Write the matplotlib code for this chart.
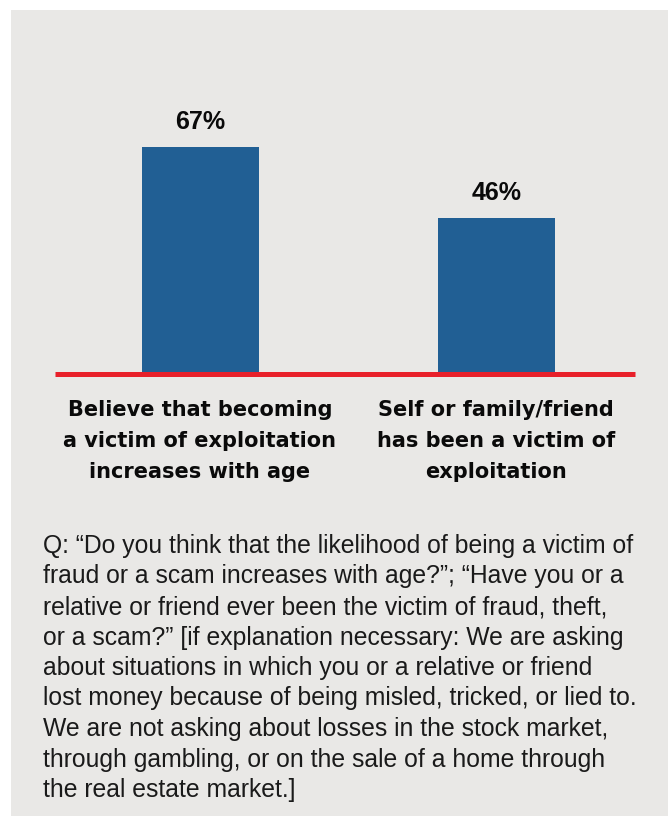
import matplotlib
matplotlib.use("Agg")
import matplotlib.pyplot as plt
from matplotlib.patches import Rectangle

# --- DATA ---
categories = [
    ["Believe that becoming", "a victim of exploitation", "increases with age"],
    ["Self or family/friend", "has been a victim of", "exploitation"],
]
values = [67, 46]
value_labels = ["67%", "46%"]
note_lines = [
    "Q: \u201cDo you think that the likelihood of being a victim of",
    "fraud or a scam increases with age?\u201d; \u201cHave you or a",
    "relative or friend ever been the victim of fraud, theft,",
    "or a scam?\u201d [if explanation necessary: We are asking",
    "about situations in which you or a relative or friend",
    "lost money because of being misled, tricked, or lied to.",
    "We are not asking about losses in the stock market,",
    "through gambling, or on the sale of a home through",
    "the real estate market.]",
]

# --- STYLE ---
W, H, DPI = 668, 816, 100
PANEL = "#e9e8e6"
BAR = "#215f94"
RED = "#e8202a"
BOLD = ["DejaVu Sans"]
NUM = ["Liberation Sans", "DejaVu Sans"]
NOTE = ["Liberation Sans Narrow", "Liberation Sans", "DejaVu Sans"]

def fx(px):
    return px / W

def fy(py):
    return 1 - py / H

fig = plt.figure(figsize=(W / DPI, H / DPI), dpi=DPI)
fig.patch.set_facecolor("white")
fig.patches.append(Rectangle((fx(11), 0), 1 - fx(11), fy(10), transform=fig.transFigure,
                             facecolor=PANEL, edgecolor="none", zorder=-10))

# axes spans the red baseline (x 55-635 px), bottom at y 374 px
base_px, top_px = 374, 100
ax = fig.add_axes([fx(55), fy(base_px), fx(635 - 55), (base_px - top_px) / H])
ax.set_zorder(5)
ax.set_facecolor("none")
px_per_pct = (373 - 146) / 67.0
spacing = 296.0
ax.set_xlim(-(200.5 - 55) / spacing, (635 - 200.5) / spacing)
ax.set_ylim(0, (base_px - top_px) / px_per_pct)
x = list(range(len(values)))
ax.bar(x, values, width=117 / spacing, color=BAR, zorder=2)
ax.axhline(0, color=RED, lw=3.6, zorder=3, clip_on=False, solid_capstyle="butt")
for s in ax.spines.values():
    s.set_visible(False)
ax.set_xticks([])
ax.set_yticks([])

for xi, v, lab in zip(x, values, value_labels):
    ax.annotate(lab, (xi, v), xytext=(0, 18 * 72 / DPI), textcoords="offset points",
                ha="center", va="baseline", fontsize=18, fontweight="bold",
                family=NUM, color="#0a0a0a")

# category labels, three lines each
cat_centers = [200, 496]
for cx, lines in zip(cat_centers, categories):
    for i, line in enumerate(lines):
        fig.text(fx(cx), fy(416 + 31 * i), line, ha="center", va="baseline",
                 fontsize=15, fontweight="bold", family=BOLD, color="#0a0a0a")

# question note
for i, line in enumerate(note_lines):
    fig.text(fx(43), fy(553 + 30.5 * i), line, ha="left", va="baseline",
             fontsize=17.8, family=NOTE, color="#1a1a1a")

fig.savefig("out.png", dpi=DPI, facecolor=fig.get_facecolor())
